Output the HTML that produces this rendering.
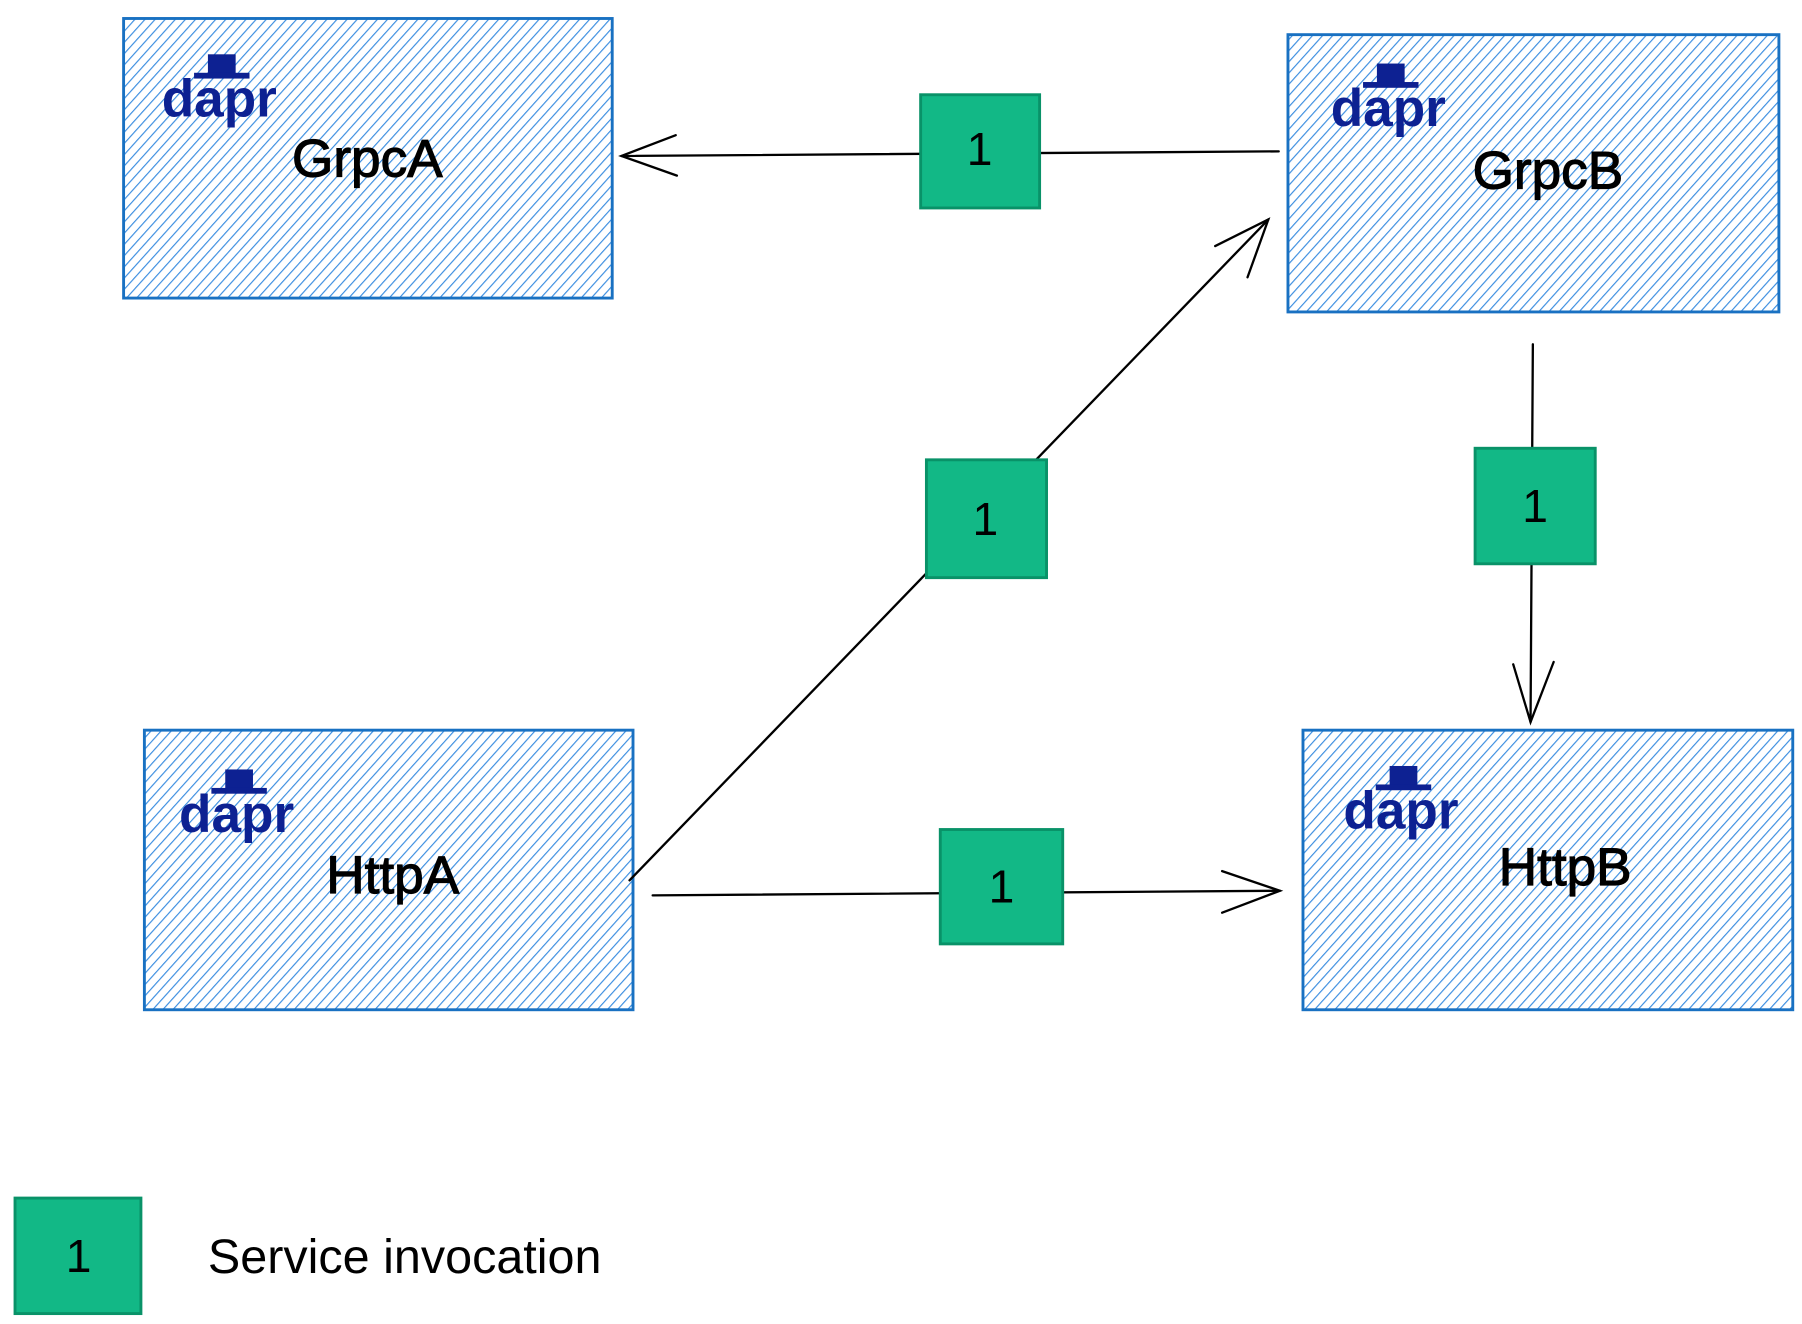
<!DOCTYPE html>
<html><head><meta charset="utf-8"><style>
html,body{margin:0;padding:0;background:#fff;}
svg{display:block;}
text{font-family:"Liberation Sans",sans-serif;}
</style></head><body>
<svg width="1802" height="1324" viewBox="0 0 1560 1146" preserveAspectRatio="none" xmlns="http://www.w3.org/2000/svg">
<defs>
<pattern id="h" patternUnits="userSpaceOnUse" width="6.5" height="6.5" patternTransform="rotate(42)">
<line x1="0" y1="0" x2="0" y2="6.5" stroke="#3a8de0" stroke-width="2"/>
</pattern>
<g id="dapr">
<rect x="40" y="0" width="24" height="17" fill="#0d2192"/>
<rect x="28" y="16" width="48" height="5" fill="#0d2192"/>
<text x="0" y="54" font-size="46" font-weight="bold" fill="#0d2192">dapr</text>
</g>
</defs>
<rect width="1560" height="1146" fill="#fff"/>

<g stroke="#1971c2" stroke-width="2.5">
<rect x="107" y="16" width="423" height="242" fill="url(#h)"/>
<rect x="1115" y="30" width="425" height="240" fill="url(#h)"/>
<rect x="125" y="632" width="423" height="242" fill="url(#h)"/>
<rect x="1128" y="632" width="424" height="242" fill="url(#h)"/>
</g>
<use href="#dapr" x="140" y="47"/>
<use href="#dapr" x="1152" y="55"/>
<use href="#dapr" x="155" y="666"/>
<use href="#dapr" x="1163" y="663"/>
<g font-size="46" fill="#000" stroke="#000" stroke-width="1" text-anchor="middle">
<text x="318" y="153">GrpcA</text>
<text x="1340" y="163">GrpcB</text>
<text x="340" y="773">HttpA</text>
<text x="1355" y="766">HttpB</text>
</g>

<g stroke="#000" stroke-width="2" fill="none" stroke-linecap="round">
<path d="M1107 131 L538 135"/>
<path d="M585 117 L538 135 L586 152"/>
<path d="M545 762 L1098 190"/>
<path d="M1052 213 L1098 190 L1080 240"/>
<path d="M1327 298 L1325 625"/>
<path d="M1310 575 L1325 625 L1345 573"/>
<path d="M565 775 L1108 771"/>
<path d="M1058 754 L1108 771 L1058 790"/>
</g>

<g fill="#12b886" stroke="#099268" stroke-width="2.5">
<rect x="797" y="82" width="103" height="98"/>
<rect x="802" y="398" width="104" height="102"/>
<rect x="1277" y="388" width="104" height="100"/>
<rect x="814" y="718" width="106" height="99"/>
<rect x="13" y="1037" width="109" height="100"/>
</g>
<g font-size="40" fill="#000" text-anchor="middle">
<text x="848" y="143">1</text>
<text x="853" y="463">1</text>
<text x="1329" y="452">1</text>
<text x="867" y="781">1</text>
<text x="68" y="1101">1</text>
</g>
<text x="180" y="1102" font-size="42" fill="#000">Service invocation</text>
</svg>
</body></html>
